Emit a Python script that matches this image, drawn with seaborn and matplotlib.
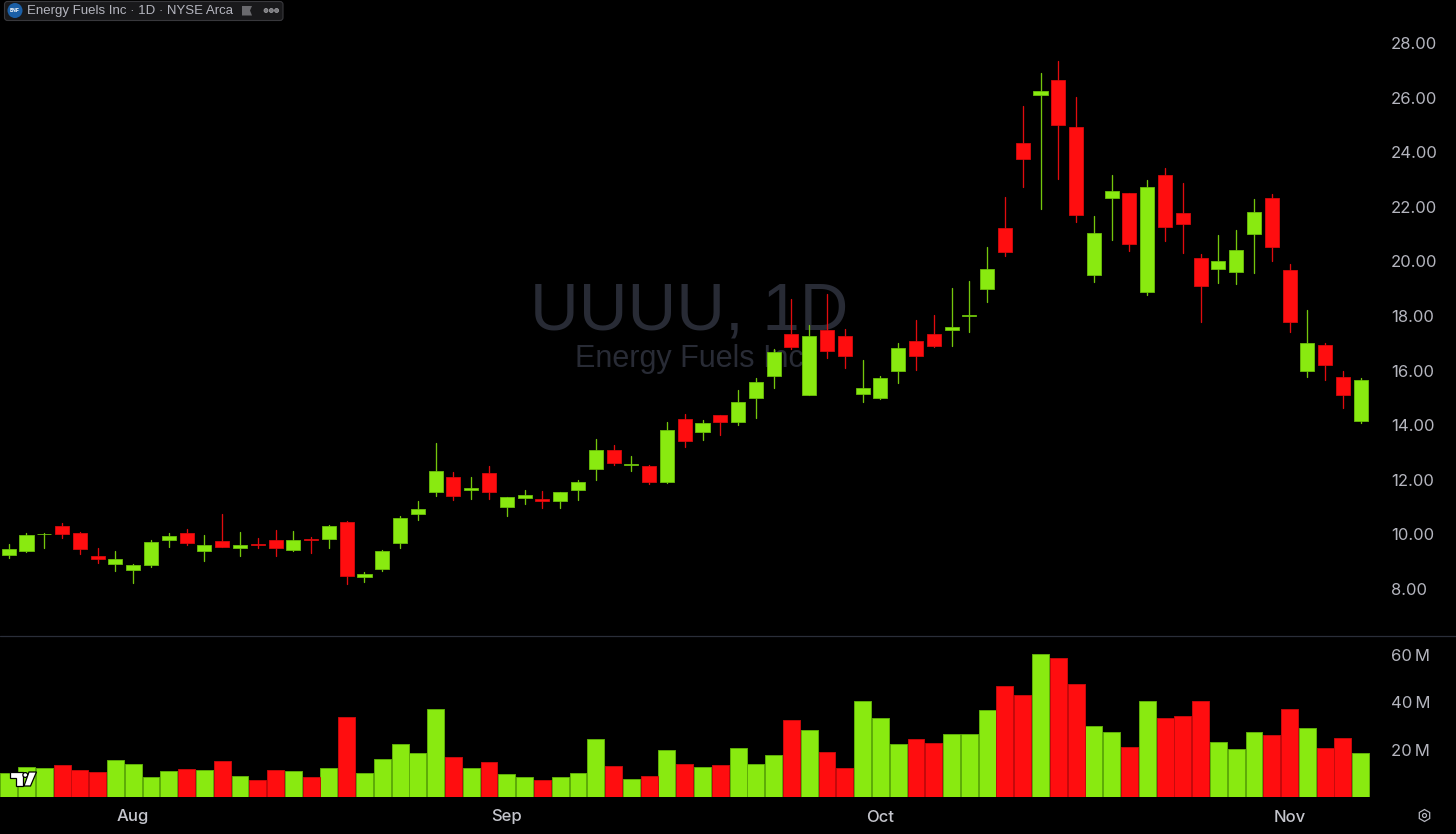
import numpy as np
import pandas as pd
import seaborn as sns
import matplotlib
matplotlib.use('Agg')
import matplotlib.pyplot as plt
from matplotlib.patches import FancyBboxPatch, Circle, Polygon, RegularPolygon
from matplotlib.lines import Line2D

# candle data
direction = list('GGGRRRGGGG' 'RGRGRRGRGR' 'GGGGGRGRGG' 'RGGGRGRGRG' 'RGGGRGRRGG' 'GRRGGGRRGR' 'RGGRGRRRGG' 'GRRGRRG')
body_top = [9.48, 9.97, 10.03, 10.31, 10.05, 9.21, 9.10, 8.87, 9.71, 9.93, 10.05, 9.60, 9.75, 9.60, 9.65, 9.79,
            9.79, 9.84, 10.32, 10.45, 8.55, 9.40, 10.60, 10.94, 12.32, 12.09, 11.69, 12.24, 11.37, 11.45, 11.30,
            11.56, 11.91, 13.08, 13.08, 12.57, 12.51, 13.84, 14.24, 14.08, 14.36, 14.86, 15.57, 16.67, 17.34,
            17.27, 17.50, 17.28, 15.37, 15.72, 16.83, 17.07, 17.34, 17.61, 18.03, 19.71, 21.23, 24.34, 26.23,
            26.66, 24.91, 21.05, 22.59, 22.49, 22.74, 23.18, 21.76, 20.11, 20.03, 20.41, 21.82, 22.31, 19.69,
            17.00, 16.95, 15.75, 15.66]
body_bot = [9.26, 9.40, 10.00, 10.03, 9.47, 9.11, 8.92, 8.68, 8.89, 9.81, 9.68, 9.38, 9.54, 9.50, 9.60, 9.51,
            9.42, 9.81, 9.84, 8.48, 8.44, 8.72, 9.67, 10.74, 11.54, 11.40, 11.64, 11.55, 11.00, 11.33, 11.23,
            11.23, 11.63, 12.40, 12.63, 12.53, 11.93, 11.93, 13.41, 13.76, 14.11, 14.11, 15.00, 15.80, 16.86,
            15.12, 16.71, 16.52, 15.13, 15.00, 16.00, 16.53, 16.91, 17.49, 18.00, 19.00, 20.34, 23.76, 26.08,
            25.01, 21.70, 19.50, 22.33, 20.64, 18.89, 21.27, 21.37, 19.10, 19.72, 19.62, 21.00, 20.52, 17.79,
            16.00, 16.21, 15.12, 14.15]
high = [9.64, 10.04, 10.06, 10.42, 10.10, 9.50, 9.38, 8.90, 9.78, 10.04, 10.19, 9.98, 10.76, 10.08, 9.88, 10.16,
        10.11, 9.92, 10.34, 10.50, 8.63, 9.43, 10.66, 11.21, 13.36, 12.27, 12.09, 12.51, 11.37, 11.62, 11.60,
        11.56, 11.98, 13.48, 13.26, 12.88, 12.54, 14.13, 14.40, 14.18, 14.36, 15.30, 15.72, 16.78, 18.61,
        17.67, 18.79, 17.51, 16.39, 15.81, 17.01, 17.85, 18.05, 19.03, 19.27, 20.53, 22.37, 25.69, 26.89,
        27.34, 26.03, 21.67, 23.15, 22.49, 22.97, 23.42, 22.86, 20.27, 20.96, 21.14, 22.27, 22.46, 19.89,
        18.21, 17.00, 15.97, 15.73]
low = [9.15, 9.36, 9.49, 9.88, 9.29, 8.96, 8.67, 8.23, 8.81, 9.55, 9.62, 9.04, 9.54, 9.20, 9.50, 9.20,
       9.40, 9.33, 9.50, 8.17, 8.25, 8.67, 9.49, 10.54, 11.42, 11.27, 11.31, 11.30, 10.66, 11.12, 10.97,
       10.96, 11.27, 11.99, 12.53, 12.33, 11.84, 11.88, 13.20, 13.47, 13.63, 14.02, 14.27, 15.36, 16.78,
       15.12, 16.46, 16.10, 14.85, 14.95, 15.56, 16.03, 16.88, 16.91, 17.41, 18.52, 20.21, 22.73, 21.91,
       23.02, 21.45, 19.23, 20.78, 20.38, 18.78, 20.75, 20.31, 17.79, 19.22, 19.16, 19.58, 20.03, 17.40,
       15.78, 15.67, 14.62, 14.09]
volume = [10.1, 12.8, 12.4, 13.7, 11.3, 10.7, 15.8, 14.1, 8.5, 10.8, 11.7, 11.4, 15.4, 9.0, 7.3, 11.5,
          11.1, 8.3, 12.1, 33.7, 10.0, 16.2, 22.5, 18.7, 37.2, 16.8, 12.1, 14.8, 9.7, 8.6, 7.0,
          8.5, 10.1, 24.6, 13.2, 7.5, 8.7, 19.7, 13.8, 12.7, 13.7, 20.8, 14.1, 17.7, 32.7,
          28.3, 19.0, 12.4, 40.6, 33.5, 22.5, 24.6, 22.8, 26.6, 26.6, 36.8, 46.9, 43.2, 60.6,
          58.9, 47.7, 30.0, 27.6, 21.0, 40.6, 33.5, 34.1, 40.7, 23.4, 20.4, 27.6, 26.2, 37.3,
          29.2, 20.7, 24.8, 18.6]

price_ticks = [8, 10, 12, 14, 16, 18, 20, 22, 24, 26, 28]
vol_ticks = [20, 40, 60]
vol_labels = ['20\u2009M', '40\u2009M', '60\u2009M']
month_pos = [7, 28, 49, 72]
month_labels = ['Aug', 'Sep', 'Oct', 'Nov']

GREEN = '#89ea10'
RED = '#ff0d0f'
TXT = '#b4b5be'

df = pd.DataFrame({'idx': range(len(volume)), 'dir': direction, 'top': body_top, 'bot': body_bot,
                   'high': high, 'low': low, 'vol': volume})
colors = df['dir'].map({'G': GREEN, 'R': RED})
edges = df['dir'].map({'G': '#6cc00a', 'R': '#d80a0c'})

sns.set_theme(style='dark', rc={'axes.facecolor': 'black', 'figure.facecolor': 'black',
                                'axes.grid': False, 'savefig.facecolor': 'black'})
plt.rcParams['font.family'] = ['Inter', 'DejaVu Sans']

W, H = 1456, 834
fig = plt.figure(figsize=(W / 100, H / 100), dpi=100)
right = 1384
# pixel layout: price pane 0-636, volume pane 636-797
ax = fig.add_axes([0, 1 - 636 / H, right / W, 636 / H])
ax2 = fig.add_axes([0, 1 - 797 / H, right / W, 161 / H])
step = 17.79
xlim = (-8.7 / step, (right - 8.7) / step)
ylim = (8 + (589 - 636) / 27.3, 8 + 589 / 27.3)

# watermark goes behind the candles
wm_x = (689 - 8.7) / step
ax.text(wm_x, 8 + (589 - 330) / 27.3, 'UUUU, 1D', color='#282b35', fontsize=48.5, family='Liberation Sans',
        ha='center', va='baseline', zorder=0)
ax.text(wm_x, 8 + (589 - 367) / 27.3, 'Energy Fuels Inc', color='#282b35', fontsize=22, family='Liberation Sans',
        ha='center', va='baseline', zorder=0)

# wicks
wicks = df.melt(id_vars=['idx', 'dir'], value_vars=['high', 'low'], value_name='price')
sns.lineplot(data=wicks, x='idx', y='price', units='idx', estimator=None, hue='dir',
             palette={'G': '#74c60c', 'R': '#e00c0e'}, linewidth=0.95, legend=False, ax=ax, zorder=2, sort=False)
# bodies
ax.bar(df['idx'], df['top'] - df['bot'], bottom=df['bot'], width=0.79, color=colors, edgecolor=edges,
       linewidth=0.6, zorder=3)
ax.set_xlim(*xlim)
ax.set_ylim(*ylim)
ax.set_xlabel('')
ax.set_ylabel('')
ax.set_xticks([])
ax.yaxis.tick_right()
ax.set_yticks(price_ticks, [f'{t:.2f}' for t in price_ticks])
ax.tick_params(axis='y', length=0, pad=5, labelsize=12, labelcolor=TXT)

# volume
sns.barplot(data=df, x='idx', y='vol', hue='dir', palette={'G': GREEN, 'R': RED}, native_scale=True, dodge=False,
            width=0.95, legend=False, ax=ax2, linewidth=0.7, saturation=1)
for bar in ax2.patches:
    fc = matplotlib.colors.to_hex(bar.get_facecolor())
    bar.set_edgecolor('#5fae08' if fc == GREEN else '#c80a0c')
ax2.set_xlim(*xlim)
ax2.set_ylim(0, (797 - 636) / 2.365)
ax2.set_xlabel('')
ax2.set_ylabel('')
ax2.yaxis.tick_right()
ax2.set_yticks(vol_ticks, vol_labels)
ax2.set_xticks(month_pos, month_labels)
ax2.tick_params(axis='y', length=0, pad=5, labelsize=12, labelcolor=TXT)
ax2.tick_params(axis='x', length=0, pad=9, labelsize=12, labelcolor='#c4c5cc')
for label in ax2.get_xticklabels():
    label.set_fontweight('medium')

for a in (ax, ax2):
    sns.despine(ax=a, left=True, bottom=True, right=True, top=True)

# overlay in pixel coordinates for chart furniture
ov = fig.add_axes([0, 0, 1, 1], facecolor='none')
ov.set_xlim(0, W)
ov.set_ylim(H, 0)
ov.axis('off')
ov.add_line(Line2D([0, W], [636, 636], color='#2a2e39', lw=0.9))

# header pill
ov.add_patch(FancyBboxPatch((4.5, 1.5), 278.5, 19, boxstyle='round,pad=0,rounding_size=3', fc='#19191b', ec='#38383c', lw=0.8))
ov.add_patch(Circle((15, 10.5), 7.5, fc='#1b5fa6', ec='none'))
ov.text(15, 10.5, 'ENF', color='white', fontsize=3.6, ha='center', va='center', fontweight='bold')
ov.text(27, 10.8, 'Energy Fuels Inc \u00b7 1D \u00b7 NYSE Arca', color='#b4b5be', fontsize=9.5,
        family='Liberation Sans', ha='left', va='center')
ov.add_patch(Polygon([(242, 6), (252, 6), (250, 10.5), (252, 15.5), (242, 15.5)], fc='#6a6a6e', ec='none'))
for cx in (266, 271.3, 276.6):
    ov.add_patch(Circle((cx, 10.5), 2, fc='#77777b', ec='#a8a8ac', lw=0.5))

# TV logo
logo = dict(fc='white', ec='black', lw=0.9, zorder=6)
ov.add_patch(Polygon([(9.5, 772), (22.5, 772), (22.5, 786), (15.5, 786), (15.5, 778), (9.5, 778)], **logo))
ov.add_patch(Circle((25.3, 775), 2.4, **logo))
ov.add_patch(Polygon([(29, 772), (36.5, 772), (30.5, 786), (24, 786)], **logo))

# settings icon
ov.add_patch(RegularPolygon((1424.5, 815.5), 6, radius=6, fc='none', ec=TXT, lw=0.9))
ov.add_patch(Circle((1424.5, 815.5), 2, fc='none', ec=TXT, lw=0.9))

fig.savefig('out.png', dpi=100, facecolor='black')
